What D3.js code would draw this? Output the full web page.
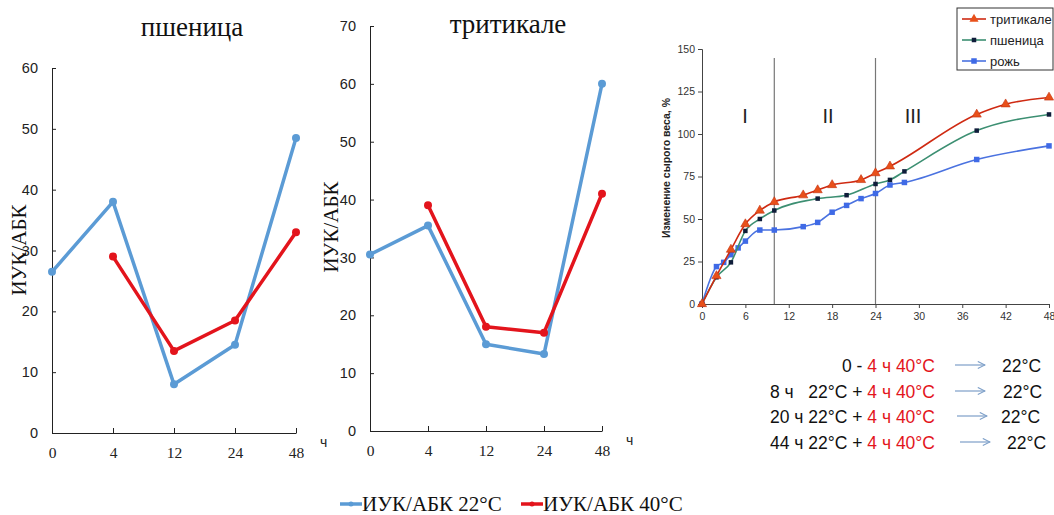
<!DOCTYPE html>
<html>
<head>
<meta charset="utf-8">
<script src="https://cdn.jsdelivr.net/npm/d3@7"></script>
<style>
  body { margin: 0; background: #fff; }
  svg { display: block; }
  .serif { font-family: "Liberation Serif", "DejaVu Serif", serif; }
  .sans { font-family: "Liberation Sans", Arial, sans-serif; }
</style>
</head>
<body>
<div id="root"></div>
<script>
"use strict";

// --- left panels: hours after start, ИУК/АБК ratio
var hours = ["0", "4", "12", "24", "48"];
var wheat22 = [26.5, 38, 8, 14.5, 48.5];
var wheat40 = [null, 29, 13.5, 18.5, 33];
var trit22 = [30.5, 35.5, 15, 13.3, 60];
var trit40 = [null, 39, 18, 17, 41];

// --- right panel: change of fresh weight, %
var tritT = [0, 2, 4, 6, 8, 10, 14, 16, 18, 22, 24, 26, 38, 42, 48];
var tritV = [0, 16.5, 32, 47, 55, 60, 64, 67, 70, 73, 77, 81, 111.5, 117.5, 121.5];
var wheatT = [0, 2, 4, 6, 8, 10, 16, 20, 24, 26, 28, 38, 48];
var wheatV = [0, 15.7, 24.5, 43, 50, 55, 62, 64, 70.6, 73, 78, 102, 111.5];
var ryeT = [0, 2, 3, 4, 5, 6, 8, 10, 14, 16, 18, 20, 22, 24, 26, 28, 38, 48];
var ryeV = [0, 22, 24.5, 29, 33, 37, 43.5, 43.5, 45.5, 48, 54, 58, 62, 65, 70, 71.5, 85, 93];
var phaseBounds = [10, 24];
var phaseNames = ["I", "II", "III"];
var phaseX = [745, 828, 913];

var notesBlack = ["0 - ", "8 ч   22°C + ", "20 ч 22°C + ", "44 ч 22°C + "];
var notesRed = "4 ч 40°C";
var notesAfter = "22°C";

var BLUE = "#5b9bd5", RED = "#e3141c";

var svg = d3.select("#root").append("svg")
    .attr("width", 1054)
    .attr("height", 515);

function drawRatioPanel(opts) {
    var g = svg.append("g");
    var x = d3.scalePoint().domain(hours).range([opts.x0, opts.x1]);
    var y = d3.scaleLinear().domain([0, opts.ymax]).range([opts.y0, opts.y1]);

    // y axis: inner ticks
    var ya = g.append("g").attr("transform", "translate(" + opts.x0 + ",0)")
        .call(d3.axisLeft(y).tickValues(d3.range(0, opts.ymax + 1, 10))
            .tickSizeInner(-4).tickSizeOuter(0).tickPadding(14));
    ya.select(".domain").attr("stroke", "#222");
    ya.selectAll(".tick line").attr("stroke", "#222");
    ya.selectAll("text").attr("class", "sans").attr("font-size", 14.5)
        .attr("fill", "#222").attr("x", -14);

    // x axis: inner ticks
    var xa = g.append("g").attr("transform", "translate(0," + y(0) + ")")
        .call(d3.axisBottom(x).tickSizeInner(-5).tickSizeOuter(0));
    xa.select(".domain").attr("stroke", "#222");
    xa.selectAll(".tick line").attr("stroke", "#222");
    xa.selectAll("text").attr("class", "serif").attr("font-size", 15.5)
        .attr("fill", "#222").attr("dy", "0.9em").attr("y", 11);
    g.append("text").attr("class", "sans")
        .attr("x", opts.x1 + 24).attr("y", y(0) + 14)
        .attr("font-size", 14).attr("fill", "#222").text("ч");

    g.append("text").attr("class", "serif")
        .attr("x", opts.titleX).attr("y", opts.titleY)
        .attr("text-anchor", "middle").attr("font-size", 27).attr("fill", "#111")
        .text(opts.title);
    g.append("text").attr("class", "serif")
        .attr("transform", "translate(" + opts.ylabX + "," + opts.ylabY + ") rotate(-90)")
        .attr("text-anchor", "middle").attr("font-size", 21).attr("fill", "#111")
        .text("ИУК/АБК");

    var line = d3.line()
        .defined(d => d[1] != null)
        .x(d => x(d[0])).y(d => y(d[1]));
    [[opts.s22, BLUE], [opts.s40, RED]].forEach(function (s) {
        var pts = hours.map((h, i) => [h, s[0][i]]);
        g.append("path").datum(pts)
            .attr("d", line).attr("fill", "none")
            .attr("stroke", s[1]).attr("stroke-width", 3.5)
            .attr("stroke-linejoin", "round");
        g.selectAll(null).data(pts.filter(d => d[1] != null)).enter()
            .append("circle")
            .attr("cx", d => x(d[0])).attr("cy", d => y(d[1]))
            .attr("r", 4).attr("fill", s[1]);
    });
}

drawRatioPanel({
    x0: 52, x1: 296, y0: 433, y1: 68, ymax: 60,
    s22: wheat22, s40: wheat40, title: "пшеница", titleX: 192, titleY: 36,
    ylabX: 26, ylabY: 250
});
drawRatioPanel({
    x0: 370, x1: 602, y0: 431, y1: 26, ymax: 70,
    s22: trit22, s40: trit40, title: "тритикале", titleX: 508, titleY: 33,
    ylabX: 338, ylabY: 227
});

// --- right panel
(function () {
    var g = svg.append("g");
    var x = d3.scaleLinear().domain([0, 48]).range([702, 1049]);
    var y = d3.scaleLinear().domain([0, 150]).range([304, 49]);

    var ya = g.append("g").attr("transform", "translate(702,0)")
        .call(d3.axisLeft(y).tickValues(d3.range(0, 151, 25)).tickSize(4));
    var xa = g.append("g").attr("transform", "translate(0,304)")
        .call(d3.axisBottom(x).tickValues(d3.range(0, 49, 6)).tickSize(4).tickSizeOuter(0));
    [ya, xa].forEach(function (a) {
        a.select(".domain").attr("stroke", "#444");
        a.selectAll(".tick line").attr("stroke", "#444");
        a.selectAll("text").attr("class", "sans").attr("font-size", 10.5).attr("fill", "#333");
    });
    xa.selectAll("text").attr("y", 9);

    g.append("text").attr("class", "sans")
        .attr("transform", "translate(670,168) rotate(-90)")
        .attr("text-anchor", "middle").attr("font-size", 10.5)
        .attr("font-weight", "bold").attr("fill", "#222")
        .text("Изменение сырого веса, %");

    g.selectAll(".phase").data(phaseBounds).enter().append("line")
        .attr("x1", d => x(d)).attr("x2", d => x(d))
        .attr("y1", 58).attr("y2", 304)
        .attr("stroke", "#777").attr("stroke-width", 1.2);
    g.selectAll(".pname").data(phaseNames).enter().append("text")
        .attr("class", "sans")
        .attr("x", (d, i) => phaseX[i]).attr("y", 123)
        .attr("text-anchor", "middle").attr("font-size", 20).attr("fill", "#222")
        .text(d => d);

    var line = d3.line().curve(d3.curveMonotoneX)
        .x(d => x(d[0])).y(d => y(d[1]));
    var series = [
        { t: ryeT, v: ryeV, stroke: "#4a72e0", mark: "square", fill: "#3f6ae6", size: 5.5 },
        { t: wheatT, v: wheatV, stroke: "#3c8f72", mark: "square", fill: "#0f1d3a", size: 4.5 },
        { t: tritT, v: tritV, stroke: "#cf2a12", mark: "tri", fill: "#e8501a", size: 9 }
    ];
    series.forEach(function (s) {
        var pts = s.t.map((t, i) => [t, s.v[i]]);
        g.append("path").datum(pts).attr("d", line)
            .attr("fill", "none").attr("stroke", s.stroke).attr("stroke-width", 1.6);
        var sym = d3.symbol()
            .type(s.mark === "tri" ? d3.symbolTriangle : d3.symbolSquare)
            .size(s.mark === "tri" ? s.size * s.size * 0.45 : s.size * s.size);
        g.selectAll(null).data(pts).enter().append("path")
            .attr("d", sym)
            .attr("transform", d => "translate(" + x(d[0]) + "," + y(d[1]) + ")")
            .attr("fill", s.fill)
            .attr("stroke", s.mark === "tri" ? "#c4300f" : "none")
            .attr("stroke-width", 0.6);
    });

    // legend
    var lg = g.append("g");
    lg.append("rect").attr("x", 957).attr("y", 8).attr("width", 96).attr("height", 62)
        .attr("fill", "#fff").attr("stroke", "#333").attr("stroke-width", 1);
    var legItems = [
        { name: "тритикале", s: series[2] },
        { name: "пшеница", s: series[1] },
        { name: "рожь", s: series[0] }
    ];
    legItems.forEach(function (d, i) {
        var cy = 19 + i * 21;
        lg.append("line").attr("x1", 962).attr("x2", 986).attr("y1", cy).attr("y2", cy)
            .attr("stroke", d.s.stroke).attr("stroke-width", 1.6);
        var sym = d3.symbol()
            .type(d.s.mark === "tri" ? d3.symbolTriangle : d3.symbolSquare)
            .size(d.s.mark === "tri" ? 36 : d.s.size * d.s.size);
        lg.append("path").attr("d", sym).attr("transform", "translate(974," + cy + ")")
            .attr("fill", d.s.fill);
        lg.append("text").attr("class", "sans").attr("x", 990).attr("y", cy + 4.5)
            .attr("font-size", 13).attr("fill", "#222").text(d.name);
    });
})();

// --- notes about temperature regime
(function () {
    var g = svg.append("g");
    var defs = svg.append("defs");
    defs.append("marker").attr("id", "arr")
        .attr("viewBox", "0 0 10 10").attr("refX", 9).attr("refY", 5)
        .attr("markerWidth", 9).attr("markerHeight", 9).attr("orient", "auto")
        .attr("markerUnits", "userSpaceOnUse")
        .append("path").attr("d", "M1,1 L9,5 L1,9")
        .attr("fill", "none").attr("stroke", "#7d9fc8").attr("stroke-width", 1.2);

    var baseY = [372, 398, 423, 449];
    var arrowX = [[955, 985], [955, 985], [957, 987], [960, 990]];
    var afterX = [1002, 1003, 1001, 1007];
    notesBlack.forEach(function (b, i) {
        var t = g.append("text").attr("class", "sans")
            .attr("x", 935).attr("y", baseY[i])
            .attr("text-anchor", "end").attr("font-size", 17.5)
            .style("white-space", "pre");
        t.append("tspan").attr("fill", "#111").text(b);
        t.append("tspan").attr("fill", RED).text(notesRed);
        g.append("line")
            .attr("x1", arrowX[i][0]).attr("x2", arrowX[i][1])
            .attr("y1", baseY[i] - 7).attr("y2", baseY[i] - 7)
            .attr("stroke", "#7d9fc8").attr("stroke-width", 1.2)
            .attr("marker-end", "url(#arr)");
        g.append("text").attr("class", "sans")
            .attr("x", afterX[i]).attr("y", baseY[i])
            .attr("font-size", 17.5).attr("fill", "#111").text(notesAfter);
    });
})();

// --- common legend at the bottom
(function () {
    var g = svg.append("g");
    var items = [["ИУК/АБК 22°C", BLUE, 340], ["ИУК/АБК 40°C", RED, 521]];
    items.forEach(function (d) {
        g.append("line").attr("x1", d[2]).attr("x2", d[2] + 22)
            .attr("y1", 504).attr("y2", 504)
            .attr("stroke", d[1]).attr("stroke-width", 3.5);
        g.append("circle").attr("cx", d[2] + 11).attr("cy", 504).attr("r", 2.5).attr("fill", d[1]);
        g.append("text").attr("class", "serif")
            .attr("x", d[2] + 22).attr("y", 511)
            .attr("font-size", 21).attr("fill", "#111").text(d[0]);
    });
})();
</script>
</body>
</html>
